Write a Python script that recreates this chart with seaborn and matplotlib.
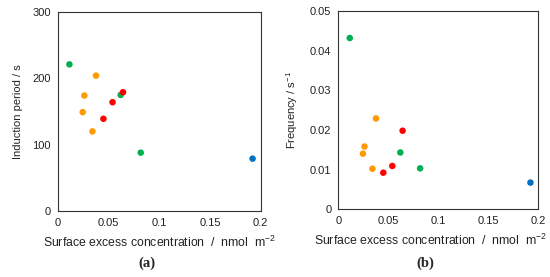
import matplotlib
matplotlib.use("Agg")
import matplotlib.pyplot as plt
import seaborn as sns
import pandas as pd

group = ["blue", "green", "green", "green", "orange", "orange", "orange", "orange", "red", "red", "red"]
surface_excess = [0.192, 0.0115, 0.062, 0.0818, 0.0377, 0.0262, 0.0246, 0.0342, 0.045, 0.054, 0.0643]
induction_period = [79, 221, 175, 88, 204, 174, 149, 120, 139, 164, 179]
frequency = [0.0067, 0.0432, 0.0143, 0.0103, 0.0229, 0.0158, 0.0140, 0.0102, 0.0092, 0.0109, 0.0198]

palette = {"blue": "#0070C0", "green": "#00B050", "orange": "#FF9900", "red": "#FF0000"}

df = pd.DataFrame({"group": group, "x": surface_excess,
                   "ip": induction_period, "freq": frequency})

sns.set_theme(style="white")
plt.rcParams["font.family"] = ["Liberation Sans", "DejaVu Sans"]
plt.rcParams["mathtext.fontset"] = "custom"
plt.rcParams["mathtext.rm"] = "Liberation Sans"

fig = plt.figure(figsize=(5.5, 2.77), dpi=100)
ax1 = fig.add_axes([0.105, 0.238, 0.369, 0.719])
ax2 = fig.add_axes([0.615, 0.245, 0.364, 0.715])

xlabel = "Surface excess concentration  /  nmol  m$^{\\mathrm{-2}}$"

for ax, col, ylim, yticks, ylabel, yfmt, xl_x in [
    (ax1, "ip", (0, 300), [0, 100, 200, 300], "Induction period / s", lambda v: f"{v:g}", 0.5),
    (ax2, "freq", (0, 0.05), [0, 0.01, 0.02, 0.03, 0.04, 0.05], "Frequency / s$^{\\mathrm{-1}}$",
     lambda v: "0" if v == 0 else f"{v:.2f}", 0.46),
]:
    sns.scatterplot(data=df, x="x", y=col, hue="group", palette=palette, ax=ax,
                    s=22, edgecolor="none", legend=False)
    ax.set_xlim(0, 0.2)
    ax.set_ylim(*ylim)
    ax.set_xticks([0, 0.05, 0.1, 0.15, 0.2])
    ax.set_xticklabels(["0", "0.05", "0.1", "0.15", "0.2"])
    ax.set_yticks(yticks)
    ax.set_yticklabels([yfmt(v) for v in yticks])
    ax.tick_params(length=0, labelsize=8, colors="#222222", pad=5)
    for sp in ax.spines.values():
        sp.set_color("#333333")
        sp.set_linewidth(0.8)
    ax.set_xlabel(xlabel, fontsize=8.8, color="#222222")
    ax.xaxis.set_label_coords(xl_x, -0.118)
    ax.xaxis.label.set_va("top")
    ax.set_ylabel(ylabel, fontsize=8, labelpad=7, color="#222222")

fig.text(0.267, 0.035, "(a)", fontsize=10.5, fontweight="bold", family="Liberation Serif", ha="center")
fig.text(0.773, 0.035, "(b)", fontsize=10.5, fontweight="bold", family="Liberation Serif", ha="center")

fig.savefig("out.png", dpi=100)
